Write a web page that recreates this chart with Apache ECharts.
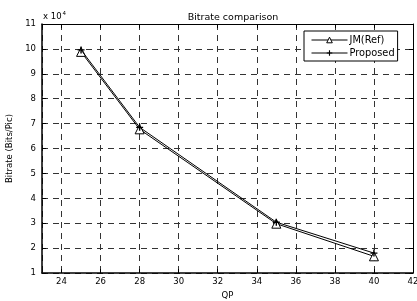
<!DOCTYPE html>
<html>
<head>
<meta charset="utf-8">
<script src="https://cdn.jsdelivr.net/npm/echarts@6/dist/echarts.min.js"></script>
<style>
  html, body { margin: 0; padding: 0; background: #fff; }
  #chart { width: 417px; height: 301px; }
</style>
</head>
<body>
<div id="chart"></div>
<script>
// QP values and bitrate (bits per picture)
const qp = [25, 28, 35, 40];
const jmRef = [98800, 67700, 29800, 16700];
const proposed = [99600, 68500, 30400, 18000];
const seriesNames = ["JM(Ref)", "Proposed"];

const fontFam = "'DejaVu Sans', sans-serif";
const plusPath = "path://M4,0 L6,0 L6,4 L10,4 L10,6 L6,6 L6,10 L4,10 L4,6 L0,6 L0,4 L4,4 Z";

const chart = echarts.init(document.getElementById("chart"));

const gridLine = { show: true, lineStyle: { color: "#333", type: [6, 5], width: 1 } };
const labelStyle = { color: "#000", fontSize: 8.5, fontFamily: fontFam };

const option = {
  animation: false,
  title: {
    text: "Bitrate comparison",
    left: 228,
    top: 8,
    textAlign: "center",
    textStyle: { fontSize: 9.5, fontWeight: "normal", color: "#000", fontFamily: fontFam },
  },
  grid: { left: 42, right: 4, top: 24, bottom: 28, show: false, outerBoundsMode: "none", containLabel: false },
  legend: {
    orient: "vertical",
    left: 304,
    top: 31,
    padding: [4, 3, 3, 7],
    itemGap: 3,
    itemWidth: 36,
    itemHeight: 7,
    borderColor: "#000",
    borderWidth: 1,
    borderRadius: 0,
    backgroundColor: "#fff",
    lineStyle: { width: 1, color: "#000" },
    textStyle: { fontSize: 9.8, color: "#000", fontFamily: fontFam, padding: [0, 0, 0, -3] },
    data: [
      { name: seriesNames[0], itemStyle: { color: "#fff", borderColor: "#000", borderWidth: 1 } },
      { name: seriesNames[1], itemStyle: { color: "#000" } },
    ],
  },
  xAxis: [
    {
      type: "value",
      min: 23,
      max: 42,
      splitNumber: 10,
      name: "QP",
      nameLocation: "middle",
      nameGap: 16,
      nameTextStyle: labelStyle,
      axisLine: { show: true, onZero: false, lineStyle: { color: "#000", width: 1.5 } },
      axisTick: { show: true, inside: true, length: 4, lineStyle: { color: "#000" } },
      axisLabel: { ...labelStyle, margin: 4, showMinLabel: false },
      splitLine: gridLine,
    },
    {
      type: "value",
      position: "top",
      min: 23,
      max: 42,
      splitNumber: 10,
      axisLine: { show: true, onZero: false, lineStyle: { color: "#000", width: 1 } },
      axisTick: { show: true, inside: true, length: 4, lineStyle: { color: "#000" } },
      axisLabel: { show: false },
      splitLine: { show: false },
    },
  ],
  yAxis: [
    {
      type: "value",
      min: 10000,
      max: 110000,
      interval: 10000,
      name: "Bitrate (Bits/Pic)",
      nameLocation: "middle",
      nameGap: 24,
      nameTextStyle: labelStyle,
      axisLine: { show: true, onZero: false, lineStyle: { color: "#000", width: 1.5 } },
      axisTick: { show: true, inside: true, length: 4, lineStyle: { color: "#000" } },
      axisLabel: { ...labelStyle, margin: 6, formatter: (v) => String(v / 10000) },
      splitLine: gridLine,
    },
    {
      type: "value",
      position: "right",
      min: 10000,
      max: 110000,
      interval: 10000,
      axisLine: { show: true, onZero: false, lineStyle: { color: "#000", width: 1 } },
      axisTick: { show: true, inside: true, length: 4, lineStyle: { color: "#000" } },
      axisLabel: { show: false },
      splitLine: { show: false },
    },
  ],
  graphic: [
    {
      type: "text",
      left: 43,
      top: 11,
      style: {
        text: "x 10{s|4}",
        fill: "#000",
        fontSize: 8.5,
        fontFamily: fontFam,
        rich: { s: { fontSize: 5.5, verticalAlign: "top", padding: [0, 0, 6, 1], fontFamily: fontFam } },
      },
    },
  ],
  series: [
    {
      name: seriesNames[0],
      type: "line",
      data: qp.map((q, i) => [q, jmRef[i]]),
      symbol: "triangle",
      symbolSize: 9,
      itemStyle: { color: "#fff", borderColor: "#000", borderWidth: 1 },
      lineStyle: { color: "#000", width: 1 },
      z: 3,
    },
    {
      name: seriesNames[1],
      type: "line",
      data: qp.map((q, i) => [q, proposed[i]]),
      symbol: plusPath,
      symbolSize: 7,
      itemStyle: { color: "#000" },
      lineStyle: { color: "#000", width: 1 },
      z: 4,
    },
  ],
};

chart.setOption(option);
</script>
</body>
</html>
